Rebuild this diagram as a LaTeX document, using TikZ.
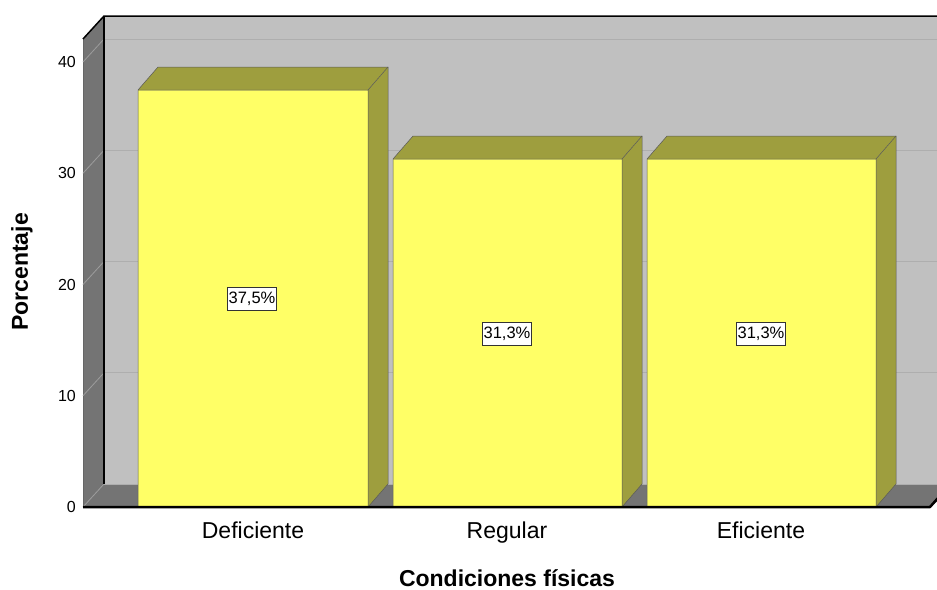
\documentclass[tikz,border=0pt]{standalone}
\usepackage{fontspec}
\setmainfont{Liberation Sans}
\definecolor{barfront}{RGB}{255,255,102}
\definecolor{bartop}{RGB}{158,158,62}
\definecolor{backwall}{RGB}{192,192,192}
\definecolor{sidewall}{RGB}{116,116,116}
\definecolor{gridback}{RGB}{174,174,174}
\definecolor{gridside}{RGB}{156,156,156}
\tikzstyle{bar}=[draw=black!65, line width=.5pt, line join=round]
\tikzset{ticklabel/.style={anchor=east, inner sep=1pt, font=\fontsize{16}{18}\selectfont}}
\tikzset{catlabel/.style={anchor=base, font=\fontsize{23}{27}\selectfont}}
\tikzset{axistitle/.style={inner sep=0pt, font=\bfseries\fontsize{23}{27}\selectfont}}
\tikzstyle{valuebox}=[draw=black!80, fill=white, line width=1.1pt, inner xsep=1.5pt, inner ysep=0pt, minimum height=23pt, font=\fontsize{16.5}{18}\selectfont]

\begin{document}
\begin{tikzpicture}[x=1pt,y=-1pt]
  \clip (0,0) rectangle (937,589);
  %% Walls and floor
  \fill[backwall] (104,16) rectangle (960,484);
  \fill[sidewall] (83,39) -- (104,16) -- (104,484) -- (83,507) -- cycle;
  \fill[sidewall] (83,507) -- (104,484) -- (960,484) -- (930,507) -- cycle;
  \draw[black!60, line width=.6pt] (83,39) -- (83,507);
  \draw[gridback, line width=.6pt] (104,484) -- (960,484);

  %% Grid lines
  \draw[gridside, line width=.8pt] (83,507) -- (104,484);
  \draw[gridside, line width=.8pt] (83,395.75) -- (104,372.75);
  \draw[gridside, line width=.8pt] (83,284.5) -- (104,261.5);
  \draw[gridside, line width=.8pt] (83,173.25) -- (104,150.25);
  \draw[gridside, line width=.8pt] (83,62) -- (104,39);
  \draw[gridback, line width=.8pt] (104,372.75) -- (960,372.75);
  \draw[gridback, line width=.8pt] (104,261.5) -- (960,261.5);
  \draw[gridback, line width=.8pt] (104,150.25) -- (960,150.25);
  \draw[gridback, line width=.8pt] (104,39) -- (960,39);

  \draw[black, line width=1.5pt] (83,39) -- (104,16) -- (960,16);
  \draw[black, line width=1.5pt] (104,16) -- (104,484);

  %% Bars
  \fill[barfront] (138,507) rectangle (368,90);
  \fill[bartop] (138,90) -- (158,67) -- (388,67) -- (368,90) -- cycle;
  \fill[bartop] (368,90) -- (388,67) -- (388,484) -- (368,507) -- cycle;
  \draw[bar] (138,507) -- (138,90) -- (158,67) -- (388,67) -- (388,484) -- (368,507);
  \draw[bar] (138,90) -- (368,90) -- (388,67) (368,90) -- (368,507);

  \fill[barfront] (393,507) rectangle (622,159);
  \fill[bartop] (393,159) -- (413,136) -- (642,136) -- (622,159) -- cycle;
  \fill[bartop] (622,159) -- (642,136) -- (642,484) -- (622,507) -- cycle;
  \draw[bar] (393,507) -- (393,159) -- (413,136) -- (642,136) -- (642,484) -- (622,507);
  \draw[bar] (393,159) -- (622,159) -- (642,136) (622,159) -- (622,507);

  \fill[barfront] (647,507) rectangle (876,159);
  \fill[bartop] (647,159) -- (667,136) -- (896,136) -- (876,159) -- cycle;
  \fill[bartop] (876,159) -- (896,136) -- (896,484) -- (876,507) -- cycle;
  \draw[bar] (647,507) -- (647,159) -- (667,136) -- (896,136) -- (896,484) -- (876,507);
  \draw[bar] (647,159) -- (876,159) -- (896,136) (876,159) -- (876,507);

  \draw[black, line width=2.5pt, line join=round] (83,507) -- (930,507) -- (938,498);

  %% Value labels
  \draw (252,299) node[valuebox] (V1) {37,5\%};
  \draw (507,334) node[valuebox] (V2) {31,3\%};
  \draw (761,334) node[valuebox] (V3) {31,3\%};

  %% Axis labels
  \draw (77,507) node[ticklabel] (T0) {0};
  \draw (77,395.75) node[ticklabel] (T10) {10};
  \draw (77,284.5) node[ticklabel] (T20) {20};
  \draw (77,173.25) node[ticklabel] (T30) {30};
  \draw (77,62) node[ticklabel] (T40) {40};

  \draw (253,538) node[catlabel] (C1) {Deficiente};
  \draw (507,538) node[catlabel] (C2) {Regular};
  \draw (761,538) node[catlabel] (C3) {Eficiente};

  \draw (507,586) node[axistitle, anchor=base] (XT) {Condiciones físicas};
  \draw (22,272) node[axistitle, rotate=90] (YT) {Porcentaje};
\end{tikzpicture}
\end{document}
